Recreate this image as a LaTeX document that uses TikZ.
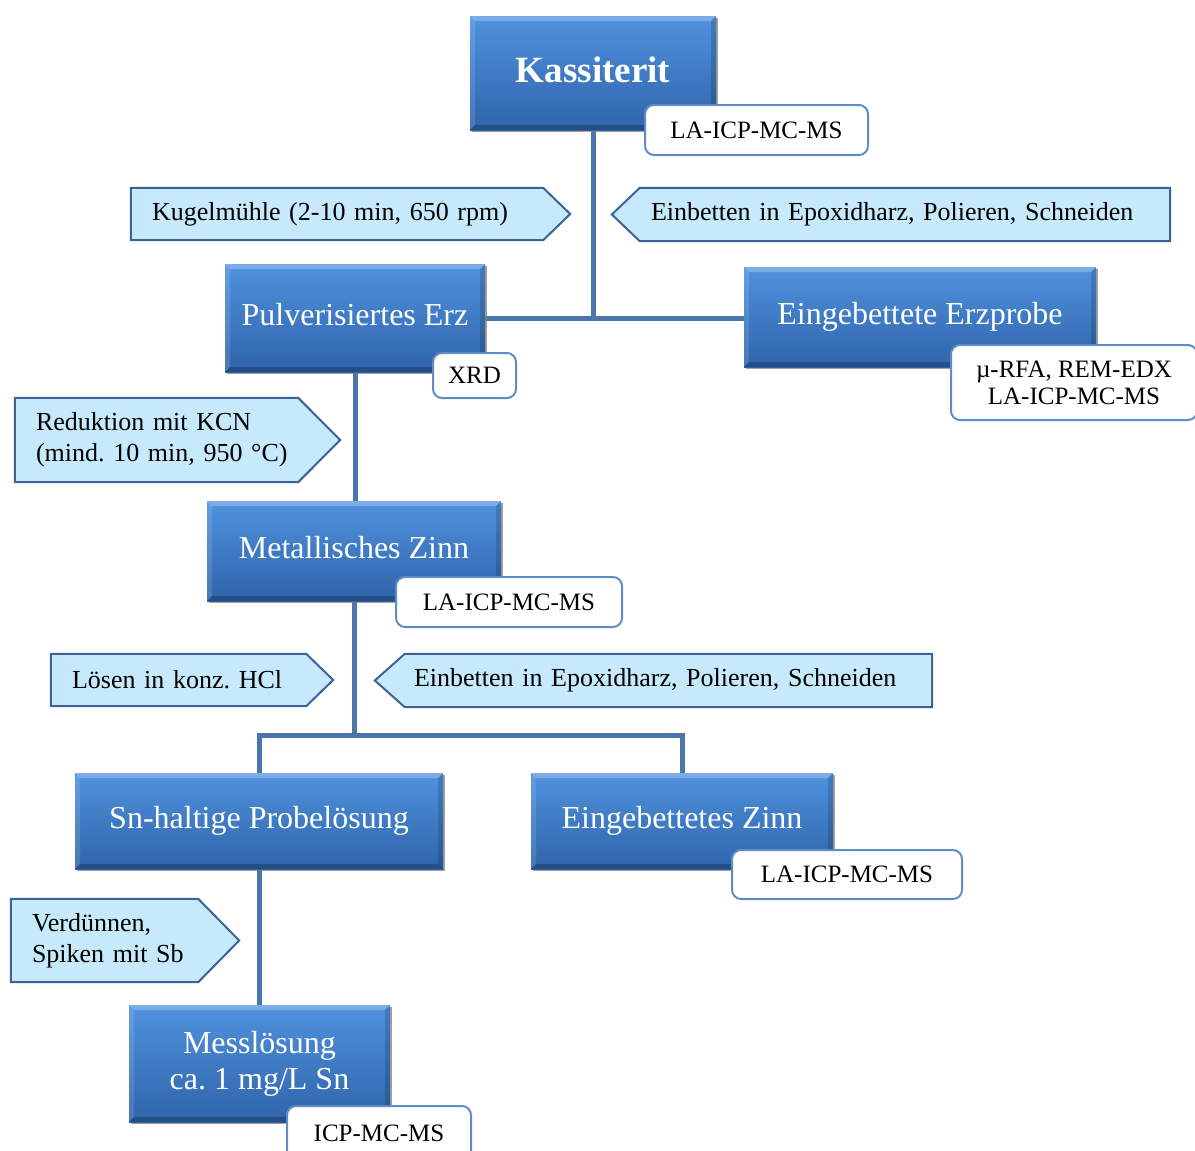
\documentclass[tikz,border=0pt]{standalone}
\usepackage{fontspec}
\setmainfont{Liberation Serif}
\usetikzlibrary{shadows,calc}
\frenchspacing

\definecolor{boxtop}{RGB}{80,146,222}
\definecolor{boxbot}{RGB}{46,100,170}
\definecolor{linkblue}{RGB}{74,118,171}
\definecolor{stepfill}{RGB}{198,234,251}
\definecolor{stepedge}{RGB}{60,98,150}
\definecolor{tagedge}{RGB}{96,140,198}

\pgfdeclarelayer{background}
\pgfsetlayers{background,main}

\tikzset{
  mainbox/.style={
    top color=boxtop, bottom color=boxbot,
    drop shadow={opacity=0.75, shadow xshift=1.5pt, shadow yshift=-1.5pt},
    text=white, inner sep=0pt, align=center, text depth=6.5pt,
    font=\fontsize{32}{36}\selectfont,
    path picture={
      \coordinate (ppnw) at (path picture bounding box.north west);
      \coordinate (ppne) at (path picture bounding box.north east);
      \coordinate (ppsw) at (path picture bounding box.south west);
      \coordinate (ppse) at (path picture bounding box.south east);
      \fill[white,opacity=.25] (ppnw) -- (ppne) -- ([xshift=-5pt,yshift=-5pt]ppne) -- ([xshift=5pt,yshift=-5pt]ppnw) -- cycle;
      \fill[white,opacity=.12] (ppnw) -- ([xshift=5pt,yshift=-5pt]ppnw) -- ([xshift=5pt,yshift=5pt]ppsw) -- (ppsw) -- cycle;
      \fill[black,opacity=.22] (ppsw) -- ([xshift=5pt,yshift=5pt]ppsw) -- ([xshift=-5pt,yshift=5pt]ppse) -- (ppse) -- cycle;
      \fill[black,opacity=.15] (ppne) -- ([xshift=-5pt,yshift=-5pt]ppne) -- ([xshift=-5pt,yshift=5pt]ppse) -- (ppse) -- cycle;
    }
  },
  tagbox/.style={draw=tagedge, line width=2pt, fill=white, rounded corners=9pt,
    inner sep=0pt, align=center, font=\fontsize{25}{27}\selectfont},
  stepbox/.style={inner xsep=21pt, inner ysep=0pt, align=left,
    font=\fontsize{26}{31}\selectfont},
  steparrow/.style={fill=stepfill, draw=stepedge, line width=2pt},
  link/.style={draw=linkblue, line width=5pt},
}

% pentagon arrows behind a step node: pointing right / pointing left
\newcommand\sigright[2]{%
  \path[steparrow] (#1.north west) -- ([xshift=-#2pt]#1.north east) -- (#1.east)
    -- ([xshift=-#2pt]#1.south east) -- (#1.south west) -- cycle;}
\newcommand\sigleft[2]{%
  \path[steparrow] (#1.west) -- ([xshift=#2pt]#1.north west) -- (#1.north east)
    -- (#1.south east) -- ([xshift=#2pt]#1.south west) -- cycle;}

\begin{document}
\begin{tikzpicture}[x=1pt,y=-1pt]
\useasboundingbox (0,0) rectangle (1195,1151);

% ---- main stages ----
\node[mainbox, minimum width=246pt, minimum height=114pt,
      font=\bfseries\fontsize{37}{40}\selectfont] (kas) at (593,73) {Kassiterit};
\node[mainbox, minimum width=260pt, minimum height=108pt] (pulv) at (355,318) {Pulverisiertes Erz};
\node[mainbox, minimum width=352pt, minimum height=100pt] (erzp) at (920,317) {Eingebettete Erzprobe};
\node[mainbox, minimum width=294pt, minimum height=100pt] (met) at (354,551) {Metallisches Zinn};
\node[mainbox, minimum width=368pt, minimum height=96pt] (sn) at (259,821) {Sn-haltige Probelösung};
\node[mainbox, minimum width=302pt, minimum height=96pt] (ez) at (682,821) {Eingebettetes Zinn};
\node[mainbox, minimum width=261pt, minimum height=117pt] (mess) at (259.5,1063.5) {Messlösung\\ca. 1 mg/L Sn};

% ---- analysis methods ----
\node[tagbox, minimum width=223pt, minimum height=50pt] (kasT) at (756.5,130) {LA-ICP-MC-MS};
\node[tagbox, minimum width=83pt, minimum height=45pt] (pulvT) at (474.5,375.5) {XRD};
\node[tagbox, minimum width=246pt, minimum height=75pt] (erzpT) at (1074,382.5) {µ-RFA, REM-EDX\\LA-ICP-MC-MS};
\node[tagbox, minimum width=226pt, minimum height=50pt] (metT) at (509,602) {LA-ICP-MC-MS};
\node[tagbox, minimum width=230pt, minimum height=49pt] (ezT) at (847,874.5) {LA-ICP-MC-MS};
\node[tagbox, minimum width=184pt, minimum height=54pt] (messT) at (379,1133) {ICP-MC-MS};

% ---- preparation steps ----
\node[stepbox, text width=397pt, minimum height=52pt] (kug) at (350.5,214) {Kugelmühle (2-10 min, 650 rpm)};
\node[stepbox, text width=516pt, minimum height=53pt] (einA) at (891,214.5) {\hspace*{18pt}Einbetten in Epoxidharz, Polieren, Schneiden};
\node[stepbox, text width=283pt, minimum height=84pt] (red) at (177.5,440) {Reduktion mit KCN\\(mind. 10 min, 950 °C)};
\node[stepbox, text width=240pt, minimum height=52pt] (loes) at (192,680) {Lösen in konz. HCl};
\node[stepbox, text width=515pt, minimum height=53pt] (einB) at (653.5,680.5) {\hspace*{18pt}Einbetten in Epoxidharz, Polieren, Schneiden};
\node[stepbox, text width=186pt, minimum height=83pt] (verd) at (125,940.5) {Verdünnen,\\Spiken mit Sb};

\coordinate (split) at (354,735);

\begin{pgfonlayer}{background}
  \sigright{kug}{27}
  \sigleft{einA}{28}
  \sigright{red}{42}
  \sigright{loes}{27}
  \sigleft{einB}{30}
  \sigright{verd}{41}

  \draw[link] (kas.south) -- (kas.south |- pulv.east);
  \draw[link] (pulv.east) -- (pulv.east -| erzp.west);
  \draw[link] (pulv.south) -- (pulv.south |- met.north);
  \draw[link] (met.south) -- (split);
  \draw[link] (sn.north) |- (split) -| (ez.north);
  \draw[link] (sn.south) -- (sn.south |- mess.north);
\end{pgfonlayer}
\end{tikzpicture}
\end{document}
